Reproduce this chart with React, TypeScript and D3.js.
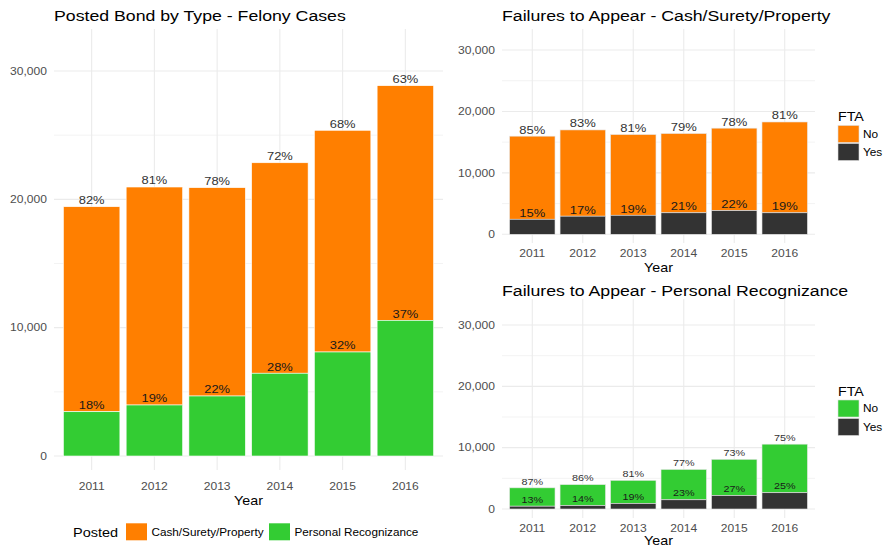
import React from "react";
import * as d3 from "d3";

const years = ["2011", "2012", "2013", "2014", "2015", "2016"];
const cashTotal = [15975, 16986, 16235, 16400, 17276, 18282];
const prTotal = [3450, 3974, 4675, 6450, 8104, 10573];
const cashFtaYes = [2450, 2950, 3100, 3500, 3850, 3500];
const prFtaYes = [460, 560, 900, 1500, 2200, 2650];
const yTicks = [0, 10000, 20000, 30000];
const yMinor = [5000, 15000, 25000];

const ORANGE = "#FF7F00";
const GREEN = "#33CC33";
const DARK = "#333333";
const GRID = "#EBEBEB";
const AXIS_TXT = "#4D4D4D";
const FONT = "'Liberation Sans', Arial, sans-serif";
const SX = 1.15;

type TP = { x: number; cy: number; fs: number; anchor?: string; fill?: string; children: React.ReactNode };
function T({ x, cy, fs, anchor = "start", fill = "#000", children }: TP) {
  const y = cy + 0.36 * fs;
  return (
    <text transform={`translate(${x},${y}) scale(${SX},1)`} fontSize={fs} textAnchor={anchor} fill={fill} fontFamily={FONT}>
      {children}
    </text>
  );
}

const fmt = d3.format(",");
const pct = (a: number, b: number) => `${Math.round((a / b) * 100)}%`;

type PanelProps = {
  x0: number; x1: number; top: number; bottom: number; y0px: number; y30px: number;
  title: string; titleCy: number; tickCy: number; yearCy: number; labelEnd: number;
  totals: number[]; lower: number[]; upperColor: string; lowerColor: string;
  labelFs: number; tickFs: number; stroke: string;
};

function Panel(p: PanelProps) {
  const y = d3.scaleLinear().domain([0, 30000]).range([p.y0px, p.y30px]);
  const x = d3.scalePoint<string>().domain(years).range([p.x0, p.x1]).padding(0.6);
  const bw = x.step() * 0.9;
  return (
    <g>
      {yMinor.map((v) => (
        <line key={"m" + v} x1={p.x0} x2={p.x1} y1={y(v)} y2={y(v)} stroke={GRID} strokeWidth={0.6} />
      ))}
      {yTicks.map((v) => (
        <line key={"g" + v} x1={p.x0} x2={p.x1} y1={y(v)} y2={y(v)} stroke={GRID} strokeWidth={1.1} />
      ))}
      {years.map((yr) => (
        <line key={"v" + yr} x1={x(yr)} x2={x(yr)} y1={p.top} y2={p.bottom} stroke={GRID} strokeWidth={1.1} />
      ))}
      {years.map((yr, i) => {
        const cx = x(yr) as number;
        const tot = p.totals[i];
        const lo = p.lower[i];
        return (
          <g key={"b" + yr}>
            <rect x={cx - bw / 2} y={y(tot)} width={bw} height={y(lo) - y(tot)} fill={p.upperColor} stroke={p.stroke} strokeWidth={0.6} />
            <rect x={cx - bw / 2} y={y(lo)} width={bw} height={y(0) - y(lo)} fill={p.lowerColor} stroke={p.stroke} strokeWidth={0.6} />
          </g>
        );
      })}
      {years.map((yr, i) => {
        const cx = x(yr) as number;
        const tot = p.totals[i];
        const lo = p.lower[i];
        return (
          <g key={"l" + yr}>
            <T x={cx} cy={y(tot) - 6.7} fs={p.labelFs} anchor="middle" fill="#333">{pct(tot - lo, tot)}</T>
            <T x={cx} cy={y(lo) - 6.7} fs={p.labelFs} anchor="middle" fill="#1a1a1a">{pct(lo, tot)}</T>
          </g>
        );
      })}
      {yTicks.map((v) => (
        <T key={"t" + v} x={p.labelEnd} cy={y(v)} fs={p.tickFs} anchor="end" fill={AXIS_TXT}>{fmt(v)}</T>
      ))}
      {years.map((yr) => (
        <T key={"x" + yr} x={x(yr) as number} cy={p.tickCy} fs={p.tickFs} anchor="middle" fill={AXIS_TXT}>{yr}</T>
      ))}
      <T x={(p.x0 + p.x1) / 2} cy={p.yearCy} fs={12.4} anchor="middle" fill="#000">Year</T>
      <T x={p.x0} cy={p.titleCy} fs={15.4} fill="#000">{p.title}</T>
    </g>
  );
}

function FtaLegend({ x, titleCy, noTop, yesTop, color }: { x: number; titleCy: number; noTop: number; yesTop: number; color: string }) {
  const kh = 17;
  return (
    <g>
      <T x={x} cy={titleCy} fs={12.4}>FTA</T>
      <rect x={x} y={noTop} width={21} height={kh} fill={color} stroke="#ddd" strokeWidth={0.6} />
      <rect x={x} y={yesTop} width={21} height={kh} fill={DARK} stroke="#ddd" strokeWidth={0.6} />
      <T x={x + 25} cy={noTop + kh / 2} fs={10.3}>No</T>
      <T x={x + 25} cy={yesTop + kh / 2} fs={10.3}>Yes</T>
    </g>
  );
}

export default function App() {
  return (
    <svg width={886} height={547} style={{ position: "absolute", left: 0, top: 0, display: "block", background: "#fff" }}>
      <rect width={886} height={547} fill="#fff" />
      <Panel
        x0={54} x1={443} top={29} bottom={470} y0px={456} y30px={71}
        title="Posted Bond by Type - Felony Cases" titleCy={15.7} tickCy={486.7} yearCy={500.7} labelEnd={47}
        totals={years.map((_, i) => cashTotal[i] + prTotal[i])} lower={prTotal}
        upperColor={ORANGE} lowerColor={GREEN} labelFs={11.2} tickFs={10.5} stroke="#fff"
      />
      <g>
        <T x={73} cy={532} fs={12.6}>Posted</T>
        <rect x={126} y={523.3} width={21} height={17} fill={ORANGE} />
        <T x={151.5} cy={532} fs={10.2}>Cash/Surety/Property</T>
        <rect x={269} y={523.3} width={21} height={17} fill={GREEN} />
        <T x={294.5} cy={532} fs={10.2}>Personal Recognizance</T>
      </g>
      <defs>
        <clipPath id="clipTop">
          <rect x={445} y={0} width={441} height={275} />
        </clipPath>
      </defs>
      <g clipPath="url(#clipTop)">
        <Panel
          x0={502} x1={815} top={29} bottom={243} y0px={234.3} y30px={50}
          title="Failures to Appear - Cash/Surety/Property" titleCy={15.7} tickCy={253.3} yearCy={267.5} labelEnd={495}
          totals={cashTotal} lower={cashFtaYes}
          upperColor={ORANGE} lowerColor={DARK} labelFs={11.3} tickFs={10.5} stroke="#e6e6e6"
        />
        <FtaLegend x={838} titleCy={116.7} noTop={125.5} yesTop={143.5} color={ORANGE} />
      </g>
      <Panel
        x0={502} x1={815} top={299} bottom={518} y0px={509} y30px={325}
        title="Failures to Appear - Personal Recognizance" titleCy={290} tickCy={528.3} yearCy={540.3} labelEnd={495}
        totals={prTotal} lower={prFtaYes}
        upperColor={GREEN} lowerColor={DARK} labelFs={9.4} tickFs={10.5} stroke="#e6e6e6"
      />
      <FtaLegend x={838} titleCy={392} noTop={400} yesTop={418.5} color={GREEN} />
    </svg>
  );
}
